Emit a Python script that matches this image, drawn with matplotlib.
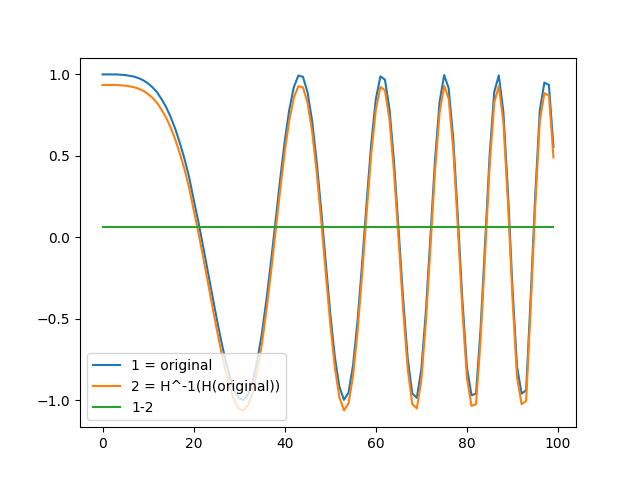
import matplotlib.pyplot as plt

x = list(range(100))

original = [
    1.00, 1.00, 1.00, 1.00, 0.998, 0.996, 0.991, 0.986, 0.976, 0.963,
    0.944, 0.920, 0.889, 0.846, 0.797, 0.735, 0.663, 0.576, 0.481, 0.370,
    0.233, 0.100, -0.044, -0.193, -0.342, -0.490, -0.629, -0.756, -0.864, -0.944,
    -0.990, -0.998, -0.963, -0.882, -0.752, -0.588, -0.380, -0.147, 0.104, 0.356,
    0.589, 0.783, 0.922, 0.993, 0.985, 0.891, 0.718, 0.468, 0.169, -0.153,
    -0.469, -0.734, -0.918, -0.998, -0.955, -0.786, -0.509, -0.159, 0.221, 0.577,
    0.848, 0.988, 0.968, 0.787, 0.460, 0.047, -0.380, -0.743, -0.959, -0.986,
    -0.809, -0.451, 0.009, 0.475, 0.831, 0.996, 0.915, 0.603, 0.129, -0.383,
    -0.799, -0.970, -0.960, -0.563, -0.031, 0.509, 0.892, 0.994, 0.771, 0.283,
    -0.309, -0.794, -0.960, -0.940, -0.368, 0.253, 0.778, 0.950, 0.935, 0.555,
]

# difference between original and reconstruction (nearly constant)
diff = [0.065] * 100

recon = [o - d for o, d in zip(original, diff)]

plt.figure(figsize=(6.4, 4.8), dpi=100)
plt.plot(x, original, label="1 = original")
plt.plot(x, recon, label="2 = H^-1(H(original))")
plt.plot(x, diff, label="1-2")
plt.legend(loc="lower left")
plt.savefig("out.png")
